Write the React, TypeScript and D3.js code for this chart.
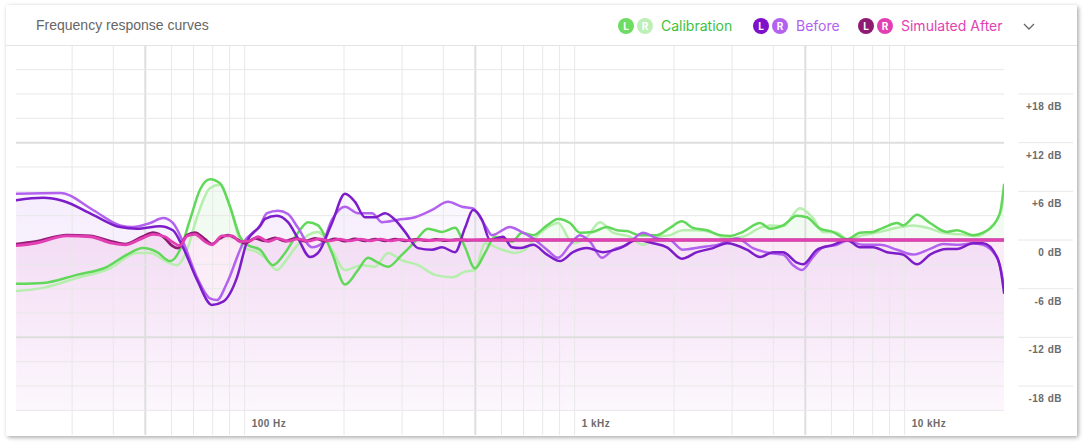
import React from "react";
import * as d3 from "d3";

// ---- Data: [frequency Hz, level dB] ----
const calibrationL: [number, number][] = [[20.3,-5.4],[24.5,-5.3],[31,-4.3],[38.3,-3.3],[44,-1.8],[49.2,-1.0],[54.3,-1.5],[59.4,-2.6],[63.7,-1.2],[68.3,2.5],[73.2,6.2],[78.5,7.5],[84.2,7.0],[90.3,4.1],[96.8,0.4],[101.7,-0.6],[111.3,-1.2],[121.9,-3.1],[132.5,-1.6],[145.1,0.9],[155.6,2.2],[166.8,1.8],[183.9,-1.6],[201.4,-5.5],[220.6,-3.7],[236.5,-2.2],[253.6,-2.8],[271.9,-3.3],[299.9,-1.8],[328.3,-0.2],[359.4,1.4],[396.3,1.0],[434,1.5],[465.4,-0.9],[498.9,-3.5],[535,-1.6],[573.6,0.4],[645.9,-0.2],[692.6,0.9],[748,0.6],[824.5,1.8],[890.3,2.6],[968,2.1],[1038,0.9],[1136,1.0],[1253,1.6],[1343,1.2],[1441,1.1],[1577,0.6],[1776,0.6],[1945,1.5],[2113,2.3],[2282,1.5],[2518,1.2],[2757,0.6],[2956,0.5],[3236,1.0],[3644,2.1],[3906,1.4],[4279,1.8],[4717,3.0],[5058,2.8],[5538,1.4],[6065,1.0],[6690,0.1],[7322,0.9],[8019,1.0],[8599,1.5],[9485,2.1],[9889,1.8],[10906,3.1],[11937,2.1],[13441,1.0],[14408,1.2],[16113,0.6],[17275,0.9],[19048,2.5],[19583,3.9],[20000,6.8]];

const calibrationR: [number, number][] = [[20.3,-6.3],[24.5,-5.9],[31,-4.7],[39.1,-3.5],[47.2,-1.6],[51.7,-1.6],[58.1,-2.7],[62.4,-3.1],[66.9,-1.2],[71.7,2.8],[78.5,6.4],[84.2,6.8],[90.3,4.1],[98.9,-0.9],[109,-1.5],[115.3,-2.2],[125.3,-3.7],[132.5,-2.7],[142.1,-1.0],[155.6,0.6],[166.8,1.0],[183.9,-1.2],[201.4,-3.7],[226.8,-3.1],[248.4,-3.3],[271.9,-1.6],[299.9,-2.5],[335.2,-3.1],[377.4,-4.3],[425,-4.6],[465.4,-3.9],[498.9,-3.7],[535,-0.4],[585.7,-1.0],[659.6,-1.6],[707.4,-1.2],[748,0],[824.5,1.5],[890.3,2.1],[988.5,-0.4],[1090,0.4],[1193,2.2],[1307,0.9],[1471,0.4],[1611,-0.6],[1776,0.4],[1945,0.6],[2128,1.2],[2347,1.2],[2626,0.9],[2895,0.2],[3236,0.4],[3644,1.5],[3906,1.8],[4279,1.7],[4817,3.9],[5274,2.7],[5655,1.0],[6237,0.9],[6690,0.1],[7477,0.6],[8420,1.0],[9485,1.5],[10604,1.8],[11690,1.5],[13071,0.9],[14712,0.7],[16567,0.5],[18140,1.5],[19583,3.5],[20000,5.9]];

const beforeL: [number, number][] = [[20.3,4.9],[24.5,5.2],[28.2,4.8],[34.7,3.1],[41.9,1.6],[47.2,1.4],[55.4,1.7],[60.6,1.2],[65,-0.9],[71.7,-4.9],[79.6,-8.0],[86,-7.6],[94.8,-4.6],[101.7,-0.2],[111.3,1.7],[115.3,2.6],[125.3,3.0],[135.3,2.2],[145.1,0.2],[157.8,-2.1],[166.8,-1.6],[183.9,2.1],[201.4,5.7],[216,4.7],[231.6,2.8],[248.4,2.8],[266.3,3.3],[285.5,2.5],[306.2,1.0],[335.2,-1.0],[369.6,-1.2],[396.3,-0.9],[434,-1.5],[465.4,1.5],[492,3.7],[523.9,2.5],[553.9,0],[606.5,0.4],[645.9,-0.9],[683,-1.0],[748,-0.6],[824.5,-1.8],[902.8,-2.6],[988.5,-1.5],[1090,-1.0],[1218,-1.5],[1372,-1.0],[1545,0],[1727,-0.4],[1904,-0.9],[2113,-2.3],[2347,-1.5],[2626,-1.0],[2895,-0.4],[3328,-1.2],[3644,-2.1],[3991,-1.5],[4279,-1.5],[4717,-2.8],[4919,-3.0],[5423,-1.2],[6065,-0.6],[6690,0],[7322,-0.9],[8019,-0.9],[8843,-1.5],[9889,-1.8],[10906,-3.0],[11937,-1.8],[13441,-1.1],[14408,-1.1],[16113,-0.4],[17275,-0.4],[19048,-2.1],[19583,-3.9],[20000,-6.5]];

const beforeR: [number, number][] = [[20.3,5.7],[27.6,5.8],[34.7,3.7],[41.9,1.8],[45.9,1.6],[51.7,2.1],[56.6,2.7],[60.6,2.1],[65,-0.2],[71.7,-4.6],[78.5,-7.2],[82.4,-7.4],[88.4,-5.3],[98.9,-0.4],[111.3,1.8],[116.9,3.3],[126.2,3.6],[135.3,3.2],[145.1,1.5],[160,-0.9],[171.6,-0.4],[183.9,2.5],[201.4,4.1],[220.6,3.3],[243.2,3.3],[260.8,2.2],[291.6,2.5],[328.3,2.8],[369.6,3.7],[413.3,4.7],[455.8,4.1],[492,3.9],[535,1.8],[561.7,0.6],[636.9,1.6],[683,1.1],[748,0.2],[824.5,-1.2],[890.3,-2.2],[968,-0.6],[1038,0.6],[1113,-0.2],[1210,-2.2],[1307,-1.2],[1441,-0.6],[1611,0.9],[1776,0.2],[1945,0],[2128,-1.2],[2396,-0.9],[2700,-0.6],[3104,0.2],[3470,-1.0],[3906,-1.6],[4279,-1.8],[4587,-3.1],[4885,-3.7],[5274,-2.1],[5655,-0.9],[6237,-0.6],[6690,-0.1],[7477,-0.6],[8420,-0.6],[9485,-1.2],[10604,-1.8],[11937,-1.1],[13071,-0.5],[14712,-0.6],[16113,-0.4],[17275,-0.6],[19048,-2.2],[19583,-3.7],[20000,-5.9]];

const simulatedL: [number, number][] = [[20.3,-0.5],[23.2,-0.2],[28.9,0.6],[34,0.5],[39.6,-0.2],[43.4,-0.5],[48.9,0.4],[52.8,0.9],[57.4,0.2],[60.2,-0.7],[62.8,-1.0],[66.9,0.6],[70.7,0.9],[75.8,0.1],[79.6,-0.5],[84.2,0.2],[89,0.6],[94.8,0.1],[100.2,-0.4],[107.5,0.2],[115.3,-0.1],[123.6,0.25],[132.5,-0.15],[142.1,0.2],[152.4,-0.15],[163.4,0.2],[175.2,-0.15],[187.9,0.15],[201.4,-0.15],[216,0.15],[232,-0.12],[249,0.12],[267,-0.1],[286,0.1],[307,-0.1],[330,0.08],[354,-0.08],[380,0.06],[408,-0.06],[438,0.05],[470,-0.04],[520,0],[20000,0]];

const simulatedR: [number, number][] = [[20.3,-0.7],[23.2,-0.4],[28.9,0.5],[34,0.4],[39.6,-0.4],[43.4,-0.6],[48.9,0.2],[52.8,0.7],[57.4,0.4],[60.2,-0.2],[63.7,-0.7],[66.9,0.5],[70.7,0.7],[75.8,-0.2],[79.6,-0.6],[85.4,0.5],[91.6,0.5],[96.8,-0.2],[103.8,-0.1],[109.8,0.4],[117.7,-0.2],[126.2,0.2],[135.3,-0.15],[145.1,0.15],[156,-0.15],[168,0.15],[181,-0.12],[194,0.12],[208,-0.12],[224,0.12],[240,-0.1],[258,0.1],[277,-0.1],[297,0.08],[318,-0.08],[342,0.06],[367,-0.06],[395,0.05],[425,-0.04],[460,0.03],[520,0],[20000,0]];

const dbTickValues = [18, 12, 6, 0, -6, -12, -18];
const dbTickLabels = ["+18 dB", "+12 dB", "+6 dB", "0 dB", "-6 dB", "-12 dB", "-18 dB"];
const dbGridValues = [21, 18, 15, 12, 9, 6, 3, -3, -6, -9, -12, -15, -18, -21];
const freqGridValues = [30, 40, 50, 60, 70, 80, 90, 100, 200, 300, 400, 500, 600, 700, 800, 900, 1000, 2000, 3000, 4000, 5000, 6000, 7000, 8000, 9000, 10000];
const freqTickValues = [100, 1000, 10000];
const freqTickLabels = ["100 Hz", "1 kHz", "10 kHz"];
const legendNames = ["Calibration", "Before", "Simulated After"];

const COLORS = {
  calL: "#62d85a",
  calR: "#b6eeae",
  befL: "#7d1dc9",
  befR: "#b262ee",
  simL: "#8e1a72",
  simR: "#e23fb3",
};

export default function App() {
  const x = d3.scaleLog().domain([20, 20000]).range([14, 1004]);
  const y = d3.scaleLinear().domain([-24, 24]).range([434.7, 45.3]);
  const plotL = 16, plotR = 1004, top = 45, bottom = 435;

  const line = d3
    .line<[number, number]>()
    .x((d) => x(d[0]))
    .y((d) => y(d[1]))
    .curve(d3.curveMonotoneX);
  const areaToBottom = d3
    .area<[number, number]>()
    .x((d) => x(d[0]))
    .y0(y(-21))
    .y1((d) => y(d[1]))
    .curve(d3.curveMonotoneX);
  const areaToZero = d3
    .area<[number, number]>()
    .x((d) => x(d[0]))
    .y0(y(0))
    .y1((d) => y(d[1]))
    .curve(d3.curveMonotoneX);

  const labelFont = "'Liberation Sans', Arial, sans-serif";
  const legendFont = "Inter, 'Noto Sans', sans-serif";

  const legend = [
    { name: legendNames[0], cx: 626, l: "#6ddc63", r: "#bdf0b6", text: "#3cc23a" },
    { name: legendNames[1], cx: 761, l: "#7d12c9", r: "#b262ee", text: "#b262ee" },
    { name: legendNames[2], cx: 866, l: "#8e1a72", r: "#e23fb3", text: "#e23fb3" },
  ];

  return (
    <svg width={1084} height={444} style={{ position: "absolute", left: 0, top: 0, background: "#fff" }}>
      <defs>
        <filter id="shadow" x="-5%" y="-5%" width="110%" height="115%">
          <feDropShadow dx="1.5" dy="1.5" stdDeviation="2" floodColor="#000" floodOpacity="0.35" />
        </filter>
        <linearGradient id="befGrad" gradientUnits="userSpaceOnUse" x1="0" y1={y(8)} x2="0" y2={y(-21)}>
          <stop offset="0" stopColor="#a650e6" stopOpacity="0.055" />
          <stop offset="1" stopColor="#a650e6" stopOpacity="0.012" />
        </linearGradient>
        <linearGradient id="simGrad" gradientUnits="userSpaceOnUse" x1="0" y1={y(0)} x2="0" y2={y(-21)}>
          <stop offset="0" stopColor="#d43fae" stopOpacity="0.055" />
          <stop offset="1" stopColor="#d43fae" stopOpacity="0.01" />
        </linearGradient>
        <clipPath id="plotClip">
          <rect x={plotL} y={top} width={plotR - plotL} height={bottom - top} />
        </clipPath>
        <clipPath id="aboveZero">
          <rect x={plotL} y={top} width={plotR - plotL} height={y(0) - top} />
        </clipPath>
      </defs>

      {/* card */}
      <rect x={6} y={5} width={1071} height={431} rx={2} fill="#fff" filter="url(#shadow)" />
      <line x1={6} x2={1077} y1={45.5} y2={45.5} stroke="#e4e4e4" />

      {/* title */}
      <text x={36} y={30} fontFamily={labelFont} fontSize={14} fill="#666">
        Frequency response curves
      </text>

      {/* legend */}
      {legend.map((g) => (
        <g key={g.name}>
          <circle cx={g.cx} cy={26} r={8} fill={g.l} />
          <text x={g.cx} y={29.5} textAnchor="middle" fontFamily={legendFont} fontWeight={700} fontSize={10} fill="#fff">L</text>
          <circle cx={g.cx + 19} cy={26} r={8} fill={g.r} />
          <text x={g.cx + 19} y={29.5} textAnchor="middle" fontFamily={legendFont} fontWeight={700} fontSize={10} fill="#fff">R</text>
          <text x={g.cx + 35} y={31} fontFamily={legendFont} fontSize={14} fill={g.text}>{g.name}</text>
        </g>
      ))}
      <path d="M1024,24 L1029,29 L1034,24" fill="none" stroke="#666" strokeWidth={1.3} />

      {/* fills */}
      <g clipPath="url(#plotClip)">
        <path d={areaToBottom(beforeL) || ""} fill="url(#befGrad)" />
        <path d={areaToBottom(beforeR) || ""} fill="url(#befGrad)" />
        <path d={areaToBottom(simulatedL) || ""} fill="url(#simGrad)" />
        <path d={areaToBottom(simulatedR) || ""} fill="url(#simGrad)" />
        <g clipPath="url(#aboveZero)">
          <path d={areaToZero(calibrationL) || ""} fill="#62d85a" fillOpacity={0.045} />
          <path d={areaToZero(calibrationR) || ""} fill="#62d85a" fillOpacity={0.045} />
        </g>
      </g>

      {/* grid */}
      {freqGridValues.map((f) => {
        const thick = f === 50 || f === 500 || f === 5000;
        return (
          <line key={"v" + f} x1={x(f)} x2={x(f)} y1={46} y2={bottom}
            stroke={thick ? "#dedede" : "#e8e8e8"} strokeWidth={thick ? 2 : 1} />
        );
      })}
      {dbGridValues.map((v) => {
        const thick = v === 12 || v === -12;
        return (
          <line key={"h" + v} x1={plotL} x2={plotR} y1={y(v)} y2={y(v)}
            stroke={thick ? "#dedede" : "#e8e8e8"} strokeWidth={thick ? 2 : 1} />
        );
      })}
      {dbTickValues.map((v) => (
        <line key={"t" + v} x1={1018} x2={1073} y1={y(v)} y2={y(v)} stroke="#e8e8e8" />
      ))}

      {/* curves */}
      <g clipPath="url(#plotClip)" fill="none" strokeLinejoin="round" strokeLinecap="round">
        <path d={line(calibrationR) || ""} stroke={COLORS.calR} strokeWidth={2.5} />
        <path d={line(calibrationL) || ""} stroke={COLORS.calL} strokeWidth={2.5} />
        <path d={line(beforeR) || ""} stroke={COLORS.befR} strokeWidth={2.5} />
        <path d={line(beforeL) || ""} stroke={COLORS.befL} strokeWidth={2.5} />
        <path d={line(simulatedL) || ""} stroke={COLORS.simL} strokeWidth={2.8} />
        <path d={line(simulatedR) || ""} stroke={COLORS.simR} strokeWidth={2.8} />
      </g>

      {/* axis labels */}
      {dbTickValues.map((v, i) => (
        <text key={"yl" + v} x={1062} y={y(v) + 16} textAnchor="end" fontFamily={labelFont}
          fontWeight={700} fontSize={10} letterSpacing={0.5} fill="#6b6b6b">
          {dbTickLabels[i]}
        </text>
      ))}
      {freqTickValues.map((f, i) => (
        <text key={"xl" + f} x={x(f) + 7} y={427} fontFamily={labelFont}
          fontWeight={700} fontSize={10} letterSpacing={0.5} fill="#6b6b6b">
          {freqTickLabels[i]}
        </text>
      ))}
    </svg>
  );
}
